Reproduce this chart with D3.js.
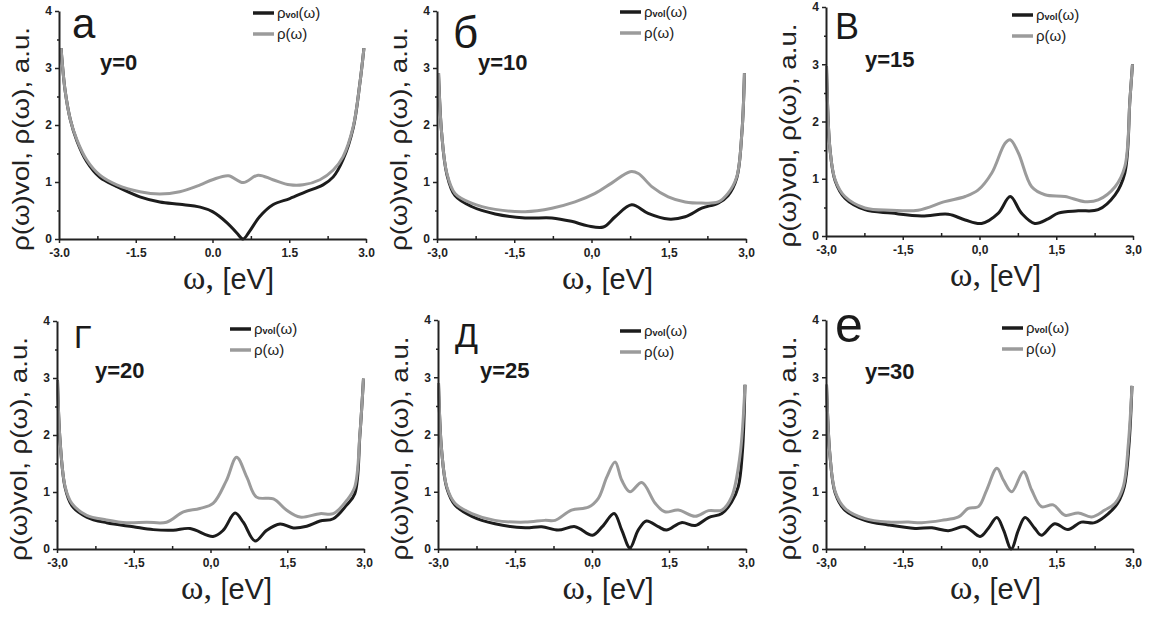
<!DOCTYPE html>
<html>
<head>
<meta charset="utf-8">
<script src="https://cdn.jsdelivr.net/npm/d3@7"></script>
<style>
  body { margin: 0; background: #fff; }
  svg { display: block; font-family: "Liberation Sans", Arial, sans-serif; }
</style>
</head>
<body>
<div id="chart"></div>
<script>
// ---- data ----
const xTicks = [-3, -1.5, 0, 1.5, 3];
const xMinorTicks = [-2.25, -0.75, 0.75, 2.25];
const yTicks = [0, 1, 2, 3, 4];
const yMinorTicks = [0.5, 1.5, 2.5, 3.5];
const xTickLabelsDot = ["-3.0", "-1.5", "0.0", "1.5", "3.0"];
const xTickLabelsComma = ["-3,0", "-1,5", "0,0", "1,5", "3,0"];
const panelLetters = ["а", "б", "В", "Г", "Д", "е"];
const yValueLabels = ["y=0", "y=10", "y=15", "y=20", "y=25", "y=30"];
const legendLabels = ["vol", "ρ(ω)"];

// [ω, ρ] pairs; rhoVol = black curve, rho = gray curve
const rhoVolA = [[-2.96,3.35],[-2.88,2.6],[-2.78,2.1],[-2.65,1.72],[-2.46,1.36],[-2.2,1.08],[-1.87,0.92],[-1.42,0.74],[-1.03,0.65],[-0.64,0.61],[-0.24,0.56],[0.0,0.48],[0.29,0.28],[0.48,0.1],[0.6,0.0],[0.72,0.13],[0.92,0.39],[1.18,0.6],[1.51,0.71],[1.83,0.83],[2.16,0.95],[2.36,1.09],[2.55,1.39],[2.75,1.95],[2.88,2.73],[2.96,3.35]];
const rhoA = [[-2.96,3.35],[-2.88,2.6],[-2.78,2.1],[-2.65,1.74],[-2.46,1.39],[-2.2,1.12],[-1.87,0.95],[-1.42,0.83],[-1.03,0.79],[-0.64,0.83],[-0.24,0.95],[0.0,1.04],[0.31,1.11],[0.6,0.99],[0.89,1.12],[1.18,1.04],[1.51,0.95],[1.77,0.95],[2.1,1.04],[2.36,1.21],[2.55,1.44],[2.75,1.97],[2.88,2.73],[2.96,3.35]];

const rhoVolB = [[-2.97,2.91],[-2.91,1.86],[-2.81,1.14],[-2.65,0.76],[-2.33,0.57],[-1.87,0.44],[-1.29,0.37],[-0.77,0.37],[-0.39,0.31],[-0.07,0.23],[0.23,0.21],[0.46,0.39],[0.78,0.6],[1.1,0.45],[1.49,0.35],[1.82,0.39],[2.14,0.54],[2.46,0.63],[2.65,0.76],[2.82,1.07],[2.92,1.86],[2.97,2.91]];
const rhoB = [[-2.97,2.91],[-2.91,1.86],[-2.81,1.16],[-2.65,0.8],[-2.33,0.63],[-1.87,0.52],[-1.29,0.48],[-0.77,0.54],[-0.32,0.65],[0.07,0.8],[0.39,0.98],[0.75,1.18],[0.91,1.15],[1.17,0.92],[1.49,0.74],[1.82,0.65],[2.14,0.63],[2.46,0.65],[2.65,0.8],[2.82,1.09],[2.92,1.86],[2.97,2.91]];

const rhoVolC = [[-2.99,2.96],[-2.92,1.5],[-2.82,0.96],[-2.63,0.66],[-2.24,0.46],[-1.72,0.4],[-1.13,0.35],[-0.61,0.38],[-0.28,0.28],[0.04,0.22],[0.37,0.4],[0.6,0.69],[0.82,0.4],[1.08,0.22],[1.34,0.3],[1.54,0.4],[1.93,0.44],[2.32,0.46],[2.65,0.72],[2.84,1.1],[2.94,2.38],[2.99,3.0]];
const rhoC = [[-2.99,2.96],[-2.92,1.5],[-2.82,0.98],[-2.63,0.69],[-2.24,0.49],[-1.72,0.45],[-1.2,0.45],[-0.68,0.6],[-0.28,0.69],[-0.03,0.8],[0.24,1.1],[0.5,1.62],[0.6,1.68],[0.76,1.45],[1.02,0.86],[1.28,0.72],[1.67,0.69],[2.06,0.6],[2.32,0.63],[2.65,0.86],[2.84,1.21],[2.94,2.38],[2.99,3.0]];

const rhoVolD = [[-2.99,2.96],[-2.94,1.9],[-2.84,1.07],[-2.71,0.76],[-2.42,0.56],[-2.03,0.46],[-1.51,0.39],[-1.12,0.34],[-0.73,0.33],[-0.4,0.36],[0.05,0.22],[0.25,0.33],[0.48,0.63],[0.64,0.47],[0.87,0.14],[1.1,0.33],[1.36,0.44],[1.62,0.37],[1.88,0.4],[2.14,0.49],[2.4,0.53],[2.66,0.77],[2.82,0.97],[2.92,2.0],[2.99,2.99]];
const rhoD = [[-2.99,2.96],[-2.94,1.9],[-2.84,1.09],[-2.71,0.8],[-2.42,0.59],[-2.03,0.51],[-1.64,0.46],[-1.25,0.47],[-0.86,0.47],[-0.53,0.65],[-0.21,0.71],[0.05,0.8],[0.31,1.2],[0.51,1.61],[0.71,1.26],[0.9,0.91],[1.23,0.88],[1.49,0.68],[1.75,0.56],[2.14,0.62],[2.4,0.62],[2.66,0.85],[2.82,1.09],[2.92,2.02],[2.99,2.99]];

const rhoVolE = [[-2.99,2.9],[-2.93,1.73],[-2.83,1.07],[-2.67,0.77],[-2.34,0.57],[-1.89,0.44],[-1.3,0.37],[-0.98,0.39],[-0.66,0.33],[-0.33,0.39],[0.01,0.24],[0.2,0.39],[0.43,0.62],[0.58,0.33],[0.74,0.02],[0.9,0.33],[1.06,0.49],[1.29,0.39],[1.45,0.33],[1.74,0.46],[2.01,0.41],[2.27,0.55],[2.53,0.62],[2.72,0.82],[2.85,1.09],[2.93,1.7],[2.98,2.87]];
const rhoE = [[-2.99,2.9],[-2.93,1.73],[-2.83,1.09],[-2.67,0.8],[-2.34,0.62],[-1.89,0.5],[-1.3,0.47],[-0.92,0.5],[-0.72,0.5],[-0.4,0.68],[-0.07,0.73],[0.12,0.88],[0.29,1.26],[0.45,1.52],[0.58,1.2],[0.74,1.0],[0.97,1.16],[1.23,0.8],[1.42,0.65],[1.68,0.68],[2.01,0.57],[2.27,0.67],[2.53,0.68],[2.72,0.91],[2.88,1.61],[2.98,2.87]];

const rhoVolF = [[-2.99,2.87],[-2.92,1.61],[-2.82,0.98],[-2.63,0.68],[-2.24,0.5],[-1.78,0.42],[-1.26,0.36],[-0.93,0.37],[-0.61,0.32],[-0.28,0.39],[0.01,0.22],[0.17,0.36],[0.34,0.55],[0.47,0.33],[0.62,0.0],[0.76,0.33],[0.89,0.55],[1.08,0.36],[1.21,0.24],[1.47,0.44],[1.73,0.34],[1.99,0.47],[2.25,0.46],[2.52,0.62],[2.7,0.8],[2.83,1.09],[2.92,1.8],[2.98,2.85]];
const rhoF = [[-2.99,2.87],[-2.92,1.61],[-2.82,1.0],[-2.63,0.71],[-2.24,0.53],[-1.78,0.47],[-1.39,0.47],[-1.13,0.46],[-0.74,0.5],[-0.41,0.56],[-0.22,0.71],[-0.02,0.74],[0.14,1.03],[0.34,1.41],[0.47,1.2],[0.63,1.0],[0.86,1.35],[1.02,1.03],[1.21,0.74],[1.44,0.77],[1.67,0.59],[1.93,0.63],[2.19,0.56],[2.45,0.68],[2.65,0.8],[2.81,1.09],[2.91,1.85],[2.98,2.85]];

// ---- layout ----
const W = 1153, H = 617;
const BLACK = "#1c1c1c", GRAY = "#9b9b9b";

const panels = [
  { left: 59,  right: 366,  top: 11,  bottom: 239, vol: rhoVolA, rho: rhoA, labels: xTickLabelsDot,
    letter: { dx: 13, y: 38, size: 42 }, yLab: { x: 100, y: 70 }, legend: { x: 253, y: 13 } },
  { left: 437, right: 746,  top: 11,  bottom: 239, vol: rhoVolB, rho: rhoB, labels: xTickLabelsComma,
    letter: { dx: 16, y: 48, size: 44 }, yLab: { x: 478, y: 70 }, legend: { x: 620, y: 12 } },
  { left: 826, right: 1133, top: 7,   bottom: 236, vol: rhoVolC, rho: rhoC, labels: xTickLabelsComma,
    letter: { dx: 9,  y: 39, size: 36 }, yLab: { x: 865, y: 67 }, legend: { x: 1012, y: 15 } },
  { left: 57,  right: 364,  top: 321, bottom: 549, vol: rhoVolD, rho: rhoD, labels: xTickLabelsComma,
    letter: { dx: 17, y: 348, size: 32 }, yLab: { x: 95, y: 378 }, legend: { x: 230, y: 329 } },
  { left: 438, right: 746,  top: 320, bottom: 549, vol: rhoVolE, rho: rhoE, labels: xTickLabelsComma,
    letter: { dx: 17, y: 347, size: 34 }, yLab: { x: 480, y: 378 }, legend: { x: 620, y: 331 } },
  { left: 826, right: 1133, top: 320, bottom: 549, vol: rhoVolF, rho: rhoF, labels: xTickLabelsComma,
    letter: { dx: 9,  y: 342, size: 50 }, yLab: { x: 865, y: 379 }, legend: { x: 1002, y: 328 } }
];

const svg = d3.select("#chart").append("svg")
  .attr("width", W).attr("height", H)
  .attr("viewBox", `0 0 ${W} ${H}`);

panels.forEach((p, i) => {
  const x = d3.scaleLinear().domain([-3, 3]).range([p.left, p.right]);
  const y = d3.scaleLinear().domain([0, 4]).range([p.bottom, p.top]);
  const g = svg.append("g");

  const line = d3.line()
    .x(d => x(d[0]))
    .y(d => y(Math.max(0, d[1])))
    .curve(d3.curveCatmullRom.alpha(0.5));

  g.append("path").datum(p.vol)
    .attr("d", line).attr("fill", "none")
    .attr("stroke", BLACK).attr("stroke-width", 3).attr("stroke-linejoin", "round");
  g.append("path").datum(p.rho)
    .attr("d", line).attr("fill", "none")
    .attr("stroke", GRAY).attr("stroke-width", 3).attr("stroke-linejoin", "round");

  // x axis
  const xAxis = g.append("g")
    .attr("transform", `translate(0,${p.bottom})`)
    .call(d3.axisBottom(x).tickValues(xTicks).tickSize(4).tickSizeOuter(0)
      .tickFormat((d, k) => p.labels[k]));
  g.append("g")
    .attr("transform", `translate(0,${p.bottom})`)
    .call(d3.axisBottom(x).tickValues(xMinorTicks).tickSize(-3).tickSizeOuter(0).tickFormat(""))
    .select(".domain").remove();

  // y axis
  const yAxis = g.append("g")
    .attr("transform", `translate(${p.left},0)`)
    .call(d3.axisLeft(y).tickValues(yTicks).tickSize(4).tickSizeOuter(0).tickPadding(3)
      .tickFormat(d3.format("d")));
  g.append("g")
    .attr("transform", `translate(${p.left},0)`)
    .call(d3.axisLeft(y).tickValues(yMinorTicks).tickSize(2).tickSizeOuter(0).tickFormat(""))
    .select(".domain").remove();

  g.selectAll(".domain").attr("stroke", "#222").attr("stroke-width", 2);
  g.selectAll(".tick line").attr("stroke", "#222").attr("stroke-width", 1.5);
  xAxis.selectAll(".tick text")
    .attr("font-size", 12).attr("font-weight", 700).attr("fill", "#222")
    .attr("dy", "0.9em");
  yAxis.selectAll(".tick text")
    .attr("font-size", 12).attr("font-weight", 700).attr("fill", "#222");

  // axis titles
  const cy = (p.top + p.bottom) / 2 + 14;
  g.append("text")
    .attr("transform", `translate(${p.left - 30},${cy}) rotate(-90)`)
    .attr("text-anchor", "middle")
    .attr("font-size", 24).attr("fill", "#222")
    .attr("textLength", 224).attr("lengthAdjust", "spacingAndGlyphs")
    .text("ρ(ω)vol, ρ(ω), a.u.");

  const xt = g.append("text")
    .attr("x", (p.left + p.right) / 2 + 16)
    .attr("y", p.bottom + 50)
    .attr("text-anchor", "middle").attr("fill", "#222");
  xt.append("tspan").attr("font-family", "'Liberation Serif', 'Times New Roman', serif")
    .attr("font-size", 34).text("ω, ");
  xt.append("tspan").attr("font-size", 29).text("[eV]");

  // panel letter and parameter
  g.append("text")
    .attr("x", p.left + p.letter.dx).attr("y", p.letter.y)
    .attr("font-size", p.letter.size).attr("fill", "#1a1a1a")
    .text(panelLetters[i]);
  g.append("text")
    .attr("x", p.yLab.x).attr("y", p.yLab.y)
    .attr("font-size", 22).attr("font-weight", 700).attr("fill", "#1a1a1a")
    .text(yValueLabels[i]);

  // legend
  const lg = g.append("g").attr("transform", `translate(${p.legend.x},${p.legend.y})`);
  lg.append("line").attr("x1", 0).attr("x2", 21).attr("y1", 0).attr("y2", 0)
    .attr("stroke", BLACK).attr("stroke-width", 3.5);
  lg.append("line").attr("x1", 0).attr("x2", 21).attr("y1", 21).attr("y2", 21)
    .attr("stroke", GRAY).attr("stroke-width", 3.5);
  const t1 = lg.append("text").attr("x", 24).attr("y", 5).attr("font-size", 15).attr("fill", "#222");
  t1.append("tspan").text("ρ");
  t1.append("tspan").attr("font-size", 9).attr("font-weight", 700).text(legendLabels[0]);
  t1.append("tspan").text("(ω)");
  lg.append("text").attr("x", 24).attr("y", 26).attr("font-size", 15).attr("fill", "#222")
    .text(legendLabels[1]);
});
</script>
</body>
</html>
